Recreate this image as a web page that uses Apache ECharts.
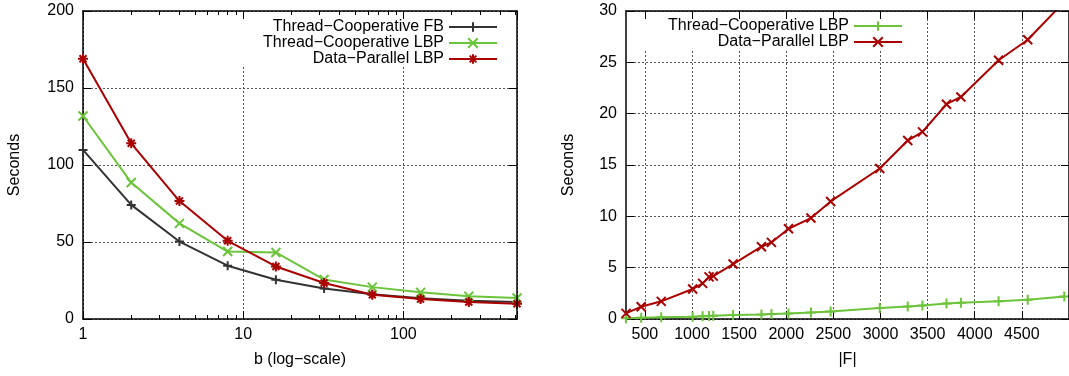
<!DOCTYPE html>
<html>
<head>
<meta charset="utf-8">
<script src="https://cdn.jsdelivr.net/npm/echarts@6.0.0/dist/echarts.min.js"></script>
<style>
html, body { margin: 0; padding: 0; background: #fff; }
#container { width: 1069px; height: 376px; }
</style>
</head>
<body>
<div id="container"></div>
<script>
// left plot: time vs b (log scale)
var bValues = [1, 2, 4, 8, 16, 32, 64, 128, 256, 512];
var tcFB = [109.8, 74.1, 50.3, 34.6, 25.5, 19.8, 16.0, 13.4, 11.8, 11.0];
var tcLBP = [131.8, 88.6, 62.1, 43.8, 43.2, 25.6, 20.7, 17.3, 14.8, 13.6];
var dpLBP = [169.0, 114.1, 76.6, 50.8, 34.1, 23.4, 15.8, 13.0, 11.0, 9.9];
var bMajorTicks = [1, 10, 100];
var bMinorTicks = [2, 3, 4, 5, 6, 7, 8, 9, 20, 30, 40, 50, 60, 70, 80, 90, 200, 300, 400, 500];

// right plot: time vs |F|
var fValues = [300, 461, 674, 1007, 1113, 1181, 1226, 1436, 1737, 1843, 2024, 2262, 2471, 2992, 3289, 3445, 3700, 3853, 4253, 4562, 4950];
var tcLBPF = [0.08, 0.12, 0.16, 0.22, 0.27, 0.29, 0.31, 0.39, 0.45, 0.48, 0.54, 0.64, 0.74, 1.07, 1.22, 1.32, 1.5, 1.58, 1.72, 1.88, 2.2];
var dpLBPF = [0.55, 1.2, 1.72, 2.92, 3.47, 4.1, 4.18, 5.35, 7.04, 7.46, 8.79, 9.83, 11.45, 14.66, 17.38, 18.23, 20.92, 21.63, 25.2, 27.2, 30.9];
var fTicks = [500, 1000, 1500, 2000, 2500, 3000, 3500, 4000, 4500];

var FONT = "'Liberation Sans', Arial, sans-serif";
var colBlack = '#333333', colGreen = '#6cc43a', colRed = '#aa0000';
var SUFFIX = ' (|F|)';

var symPlus = 'path://M0,5H10M5,0V10';
var symCross = 'path://M0,0L10,10M10,0L0,10';
var symStar = 'path://M0,5H10M5,0V10M1.5,1.5L8.5,8.5M8.5,1.5L1.5,8.5';

var dom = document.getElementById('container');
var myChart = echarts.init(dom);

function pairs(xs, ys) {
    return xs.map(function (x, i) { return [x, ys[i]]; });
}

function lineSeries(name, data, color, symbol, size, xi, yi) {
    return {
        name: name,
        type: 'line',
        xAxisIndex: xi,
        yAxisIndex: yi,
        data: data,
        symbol: symbol,
        symbolSize: size,
        lineStyle: { color: color, width: 2 },
        itemStyle: { color: color, borderColor: color, borderWidth: 2 },
        emphasis: { disabled: true }
    };
}

var axisLine = { show: true, onZero: false, lineStyle: { color: '#000', width: 1.5 } };
var gridLine = { show: true, lineStyle: { color: '#555', type: [2, 2], width: 1 } };
var labelStyle = { color: '#000', fontSize: 16, fontFamily: FONT };
var nameStyle = { color: '#000', fontSize: 16, fontFamily: FONT };

function mirror(base, pos) {
    return Object.assign({}, base, {
        position: pos,
        name: '',
        z: 6,
        axisLabel: { show: false },
        splitLine: { show: false },
        axisLine: axisLine
    });
}

var xLog = {
    type: 'log', logBase: 10, gridIndex: 0, position: 'bottom',
    min: 1, max: 512,
    axisLine: axisLine,
    axisTick: { show: true, inside: true, length: 8, lineStyle: { color: '#000', width: 1 } },
    axisLabel: Object.assign({ margin: 8, formatter: function (v) {
        var r = Math.round(v);
        return bMajorTicks.indexOf(r) >= 0 && Math.abs(v - r) < 1e-6 ? String(r) : '';
    } }, labelStyle),
    splitLine: gridLine,
    name: 'b (log\u2212scale)', nameLocation: 'middle', nameGap: 33, nameTextStyle: nameStyle
};

var xMinor = {
    type: 'value', gridIndex: 0, position: 'bottom',
    min: 0, max: Math.log10(512),
    axisLine: { show: false, onZero: false },
    axisTick: { show: true, inside: true, length: 4, customValues: bMinorTicks.map(Math.log10), lineStyle: { color: '#000', width: 1 } },
    axisLabel: { show: false },
    splitLine: { show: false }
};

var yLeft = {
    type: 'value', gridIndex: 0, position: 'left',
    min: 0, max: 200, interval: 50,
    axisLine: axisLine,
    axisTick: { show: true, inside: true, length: 8, lineStyle: { color: '#000', width: 1 } },
    axisLabel: Object.assign({ margin: 9 }, labelStyle),
    splitLine: gridLine,
    name: 'Seconds', nameLocation: 'middle', nameGap: 60, nameTextStyle: nameStyle
};

var xF = {
    type: 'value', gridIndex: 1, position: 'bottom',
    min: 300, max: 5000,
    axisLine: axisLine,
    axisTick: { show: true, inside: true, length: 8, customValues: fTicks, lineStyle: { color: '#000', width: 1 } },
    axisLabel: Object.assign({ margin: 8, customValues: fTicks, formatter: function (v) { return String(v); } }, labelStyle),
    splitLine: gridLine,
    name: '|F|', nameLocation: 'middle', nameGap: 33, nameTextStyle: nameStyle
};

var yRight = {
    type: 'value', gridIndex: 1, position: 'left',
    min: 0, max: 30, interval: 5,
    axisLine: axisLine,
    axisTick: { show: true, inside: true, length: 8, lineStyle: { color: '#000', width: 1 } },
    axisLabel: Object.assign({ margin: 9 }, labelStyle),
    splitLine: gridLine,
    name: 'Seconds', nameLocation: 'middle', nameGap: 49, nameTextStyle: nameStyle
};

var leftNames = ['Thread\u2212Cooperative FB', 'Thread\u2212Cooperative LBP', 'Data\u2212Parallel LBP'];
var rightNames = ['Thread\u2212Cooperative LBP' + SUFFIX, 'Data\u2212Parallel LBP' + SUFFIX];

var legendBase = {
    orient: 'vertical', align: 'right',
    itemWidth: 48, itemHeight: 12, itemGap: 0,
    backgroundColor: '#fff',
    selectedMode: false,
    textStyle: { color: '#000', fontSize: 16, fontFamily: FONT, lineHeight: 16 }
};

option = {
    animation: false,
    backgroundColor: '#fff',
    textStyle: { fontFamily: FONT },
    grid: [
        { left: 83, right: 552, top: 11, bottom: 57 },
        { left: 626, right: -5, top: 11, bottom: 57 }
    ],
    legend: [
        Object.assign({}, legendBase, { data: leftNames, right: 567, top: 18, padding: [1, 4, 0, 25] }),
        Object.assign({}, legendBase, { data: rightNames, right: 162, top: 17, padding: [1, 4, 0, 25],
            formatter: function (name) { return name.replace(SUFFIX, ''); } })
    ],
    xAxis: [
        xLog,
        mirror(xLog, 'top'),
        xMinor,
        mirror(xMinor, 'top'),
        xF,
        mirror(xF, 'top')
    ],
    yAxis: [
        yLeft,
        mirror(yLeft, 'right'),
        yRight,
        mirror(yRight, 'right')
    ],
    series: [
        lineSeries(leftNames[0], pairs(bValues, tcFB), colBlack, symPlus, 9, 0, 0),
        lineSeries(leftNames[1], pairs(bValues, tcLBP), colGreen, symCross, 9, 0, 0),
        lineSeries(leftNames[2], pairs(bValues, dpLBP), colRed, symStar, 10, 0, 0),
        lineSeries(rightNames[0], pairs(fValues, tcLBPF), colGreen, symPlus, 10, 4, 2),
        lineSeries(rightNames[1], pairs(fValues, dpLBPF), colRed, symCross, 9, 4, 2)
    ]
};

// minor helper axes: no line on the mirror copy either
option.xAxis[3].axisLine = { show: false, onZero: false };

if (option && typeof option === "object") {
    myChart.setOption(option, true);
}
window.addEventListener('resize', function () {
    myChart.resize();
});
</script>
</body>
</html>
